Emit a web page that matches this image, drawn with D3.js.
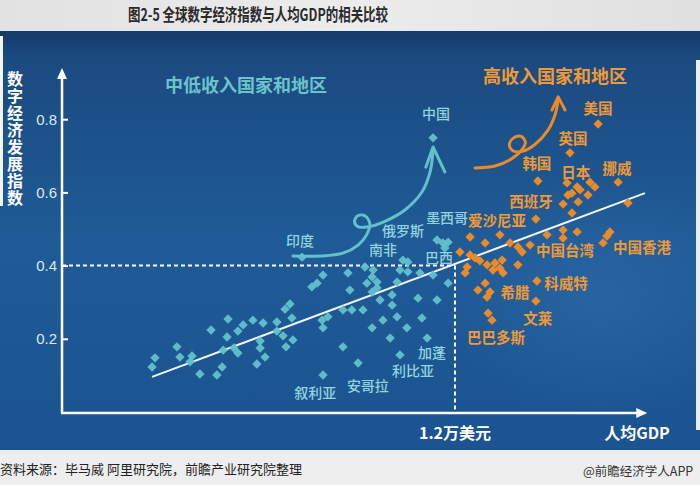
<!DOCTYPE html>
<html><head><meta charset="utf-8">
<script src="https://cdn.jsdelivr.net/npm/d3@7"></script>
<style>body{margin:0;background:#fff;} svg{display:block}</style>
</head><body><svg id="c" width="700" height="485"></svg>
<script>
// ---------- data ----------
const title = "图2-5 全球数字经济指数与人均GDP的相关比较";
const yAxisTitle = "数字经济发展指数";
const xAxisTitle = "人均GDP";
const yTicks = [0.2, 0.4, 0.6, 0.8];
const thresholdX = 12;      // 人均GDP, 千美元
const thresholdY = 0.4;
const thresholdLabel = "1.2万美元";
const groupLow = "中低收入国家和地区";
const groupHigh = "高收入国家和地区";
const source = "资料来源：毕马威 阿里研究院，前瞻产业研究院整理";
const credit = "@前瞻经济学人APP";

// [人均GDP(千美元, 估), 数字经济发展指数]
const lowIncome = [
 [2.75,0.123],[2.84,0.148],[3.51,0.178],[3.60,0.150],[3.97,0.153],[3.91,0.137],[4.21,0.104],
 [4.55,0.224],[5.07,0.254],[5.04,0.205],[4.92,0.169],[4.89,0.123],[4.73,0.101],[5.25,0.175],
 [5.37,0.161],[5.37,0.221],[5.53,0.238],[5.83,0.251],[6.14,0.243],[6.05,0.194],[6.05,0.175],
 [6.20,0.150],[5.95,0.131],[6.56,0.246],[6.56,0.221],[6.75,0.208],[7.05,0.197],[6.84,0.178],
 [6.81,0.281],[6.96,0.295],[7.02,0.257],[7.63,0.342],[7.79,0.352],[7.97,0.374],[7.94,0.251],
 [7.97,0.230],[8.12,0.260],[8.58,0.279],[8.58,0.178],[7.97,0.101],[8.73,0.380],[8.79,0.333],
 [8.85,0.279],[9.19,0.279],[9.25,0.396],[9.50,0.388],[9.47,0.369],[9.62,0.355],[9.31,0.352],
 [9.47,0.328],[9.62,0.339],[9.71,0.306],[10.08,0.320],[10.32,0.388],[10.56,0.383],[10.41,0.415],
 [10.56,0.410],[10.23,0.355],[10.93,0.380],[11.33,0.374],[11.79,0.352],[10.87,0.311],[11.45,0.306],
 [10.08,0.292],[9.80,0.251],[10.23,0.260],[10.99,0.257],[9.47,0.230],[10.53,0.230],[10.02,0.202],
 [11.15,0.202],[10.32,0.156],[9.04,0.134],[11.45,0.470],[11.63,0.462],[11.79,0.464],[11.69,0.448],
 [7.33,0.423],[11.33,0.749]
];
const highIncome = [
 [16.37,0.787],[15.51,0.708],[14.53,0.631],[15.42,0.626],[15.73,0.615],[15.82,0.607],[15.57,0.598],
 [15.45,0.593],[16.12,0.628],[16.27,0.615],[16.06,0.593],[15.76,0.574],[15.30,0.568],[15.57,0.544],
 [16.98,0.628],[17.28,0.571],[14.47,0.527],[14.81,0.484],[15.30,0.497],[15.30,0.475],[15.73,0.492],
 [16.52,0.462],[16.64,0.481],[16.73,0.492],[12.15,0.437],[12.46,0.478],[12.92,0.462],[13.37,0.484],
 [13.68,0.462],[13.92,0.451],[14.05,0.437],[14.29,0.456],[12.46,0.429],[12.61,0.421],[12.76,0.413],
 [12.98,0.402],[13.22,0.407],[13.44,0.415],[13.37,0.393],[13.16,0.388],[13.92,0.402],[12.37,0.396],
 [12.31,0.380],[13.47,0.380],[12.92,0.352],[12.70,0.333],[13.07,0.328],[12.98,0.314],[14.50,0.358],
 [14.47,0.303],[13.01,0.270],[13.13,0.251]
];
const trend = [[2.75,0.096],[17.80,0.598]];

const lowLabels = [
 ["中国",11.42,0.817],["印度",7.27,0.470],["俄罗斯",10.41,0.497],["南非",9.80,0.444],
 ["墨西哥",11.76,0.533],["巴西",11.51,0.423],["加蓬",11.30,0.164],["利比亚",10.72,0.115],
 ["安哥拉",9.34,0.074],["叙利亚",7.73,0.055]
];
const highLabels = [
 ["美国",16.37,0.833],["英国",15.60,0.751],["韩国",14.50,0.683],["日本",15.69,0.656],
 ["挪威",16.95,0.667],["西班牙",14.32,0.579],["爱沙尼亚",13.28,0.525],["中国台湾",15.36,0.443],
 ["中国香港",17.71,0.451],["科威特",15.39,0.355],["希腊",13.83,0.328],["文莱",14.53,0.257],
 ["巴巴多斯",13.25,0.205]
];
const lowPath = [[7.05,0.426],[7.88,0.426],[8.58,0.434],[9.04,0.456],[9.30,0.484],[9.40,0.514],
 [9.25,0.536],[9.03,0.536],[8.93,0.520],[9.05,0.506],[9.34,0.506],[9.86,0.521],[10.47,0.552],
 [10.99,0.601],[11.24,0.656],[11.33,0.716]];
const lowHead = [[11.11,0.669],[11.33,0.724],[11.69,0.656]];
const highPath = [[12.61,0.667],[13.22,0.672],[13.68,0.689],[14.02,0.714],[14.15,0.737],[14.02,0.753],
 [13.79,0.749],[13.66,0.730],[13.78,0.713],[14.05,0.712],[14.44,0.731],[14.84,0.770],[15.05,0.811],[15.15,0.852]];
const highHead = [[14.96,0.825],[15.15,0.861],[15.36,0.825]];

// ---------- drawing ----------
const svg = d3.select("#c");
const W = 700, H = 485;
const x = d3.scaleLinear().domain([0, 18]).range([62, 651.5]);
const y = d3.scaleLinear().domain([0, 1]).range([412, 46]);
const CJK = "'Noto Sans CJK SC','Noto Sans',sans-serif";
const TEAL = "#63c1c9", TEAL_T = "#93d3dd", ORANGE = "#e98a2b", ORANGE_T = "#f09a36";

const defs = svg.append("defs");
const bg = defs.append("linearGradient").attr("id","bg").attr("x1",0).attr("y1",0).attr("x2",0).attr("y2",1);
[[0,"#153a69"],[0.06,"#1b4a80"],[0.5,"#1f5b97"],[1,"#1b5490"]].forEach(s=>bg.append("stop").attr("offset",s[0]).attr("stop-color",s[1]));
const tb = defs.append("linearGradient").attr("id","tb").attr("x1",0).attr("y1",0).attr("x2",1).attr("y2",0);
[[0,"#e2e2e2"],[0.5,"#ececec"],[1,"#e0e0e0"]].forEach(s=>tb.append("stop").attr("offset",s[0]).attr("stop-color",s[1]));
const glow = defs.append("radialGradient").attr("id","glow").attr("cx",0.5).attr("cy",0.5).attr("r",0.5);
glow.append("stop").attr("offset",0).attr("stop-color","#3a78b4").attr("stop-opacity",0.35);
glow.append("stop").attr("offset",1).attr("stop-color","#3a78b4").attr("stop-opacity",0);

svg.append("rect").attr("width",W).attr("height",H).attr("fill","#ededed");
svg.append("rect").attr("width",W).attr("height",31).attr("fill","url(#tb)");
svg.append("rect").attr("y",31).attr("width",W).attr("height",419).attr("fill","url(#bg)");
svg.append("ellipse").attr("cx",600).attr("cy",300).attr("rx",160).attr("ry",120).attr("fill","url(#glow)");
svg.append("rect").attr("y",450).attr("width",W).attr("height",35).attr("fill","#eeeeee");
svg.append("rect").attr("x",0).attr("y",36).attr("width",3).attr("height",170).attr("fill","#f4f4f4");
svg.append("rect").attr("x",696).attr("y",60).attr("width",4).attr("height",370).attr("fill","#e8eef4");

// title
svg.append("text").attr("x",258).attr("y",21).attr("text-anchor","middle")
  .attr("font-family",CJK).attr("font-weight","bold").attr("font-size",17).attr("fill","#2b2b2b")
  .attr("textLength",260).attr("lengthAdjust","spacingAndGlyphs").text(title);

// y axis title (vertical, single text)
svg.append("text").attr("x",15).attr("y",71)
  .style("writing-mode","vertical-rl").style("text-orientation","upright").style("letter-spacing","1px")
  .attr("font-family",CJK).attr("font-weight","bold").attr("font-size",16).attr("fill","#ffffff").text(yAxisTitle);

// y axis ticks
const yAxis = d3.axisLeft(y).tickValues(yTicks).tickFormat(d3.format(".1f")).tickSizeInner(-6).tickSizeOuter(0).tickPadding(5);
const ga = svg.append("g").attr("transform",`translate(${x(0)},0)`).call(yAxis);
ga.select(".domain").remove();
ga.selectAll("line").attr("stroke","#ffffff").attr("stroke-width",2);
ga.selectAll("text").attr("fill","#dbe7f2").attr("font-size",15).attr("font-family","'Liberation Sans',Arial,sans-serif");

// dashed threshold lines
svg.append("line").attr("x1",x(0)).attr("x2",x(thresholdX)).attr("y1",y(thresholdY)).attr("y2",y(thresholdY))
  .attr("stroke","#ffffff").attr("stroke-width",2).attr("stroke-dasharray","4,3");
svg.append("line").attr("x1",x(thresholdX)).attr("x2",x(thresholdX)).attr("y1",y(thresholdY)).attr("y2",y(0))
  .attr("stroke","#ffffff").attr("stroke-width",2).attr("stroke-dasharray","4,3");

// axes with arrows
svg.append("line").attr("x1",x(0)).attr("y1",y(0)+1).attr("x2",x(0)).attr("y2",y(0.92)).attr("stroke","#fff").attr("stroke-width",2.5);
svg.append("path").attr("d",`M${x(0)},${y(0.94)} L${x(0)-5},${y(0.94)+11} L${x(0)+5},${y(0.94)+11} Z`).attr("fill","#fff");
svg.append("line").attr("x1",x(0)-1).attr("y1",y(0)+1).attr("x2",x(17.7)).attr("y2",y(0)+1).attr("stroke","#fff").attr("stroke-width",2.5);
svg.append("path").attr("d",`M${x(17.87)},${y(0)+1} L${x(17.87)-11},${y(0)-4} L${x(17.87)-11},${y(0)+6} Z`).attr("fill","#fff");

// trend line
svg.append("line").attr("x1",x(trend[0][0])).attr("y1",y(trend[0][1])).attr("x2",x(trend[1][0])).attr("y2",y(trend[1][1]))
  .attr("stroke","#f2f6fa").attr("stroke-width",2);

// points
const diamond = d3.symbol(d3.symbolSquare, 44)();
svg.append("g").selectAll("path").data(lowIncome).join("path").attr("d",diamond)
  .attr("transform",d=>`translate(${x(d[0])},${y(d[1])}) rotate(45)`).attr("fill",TEAL).attr("opacity",0.95);
svg.append("g").selectAll("path").data(highIncome).join("path").attr("d",diamond)
  .attr("transform",d=>`translate(${x(d[0])},${y(d[1])}) rotate(45)`).attr("fill",ORANGE);

// arrows
const curve = d3.line().x(d=>x(d[0])).y(d=>y(d[1])).curve(d3.curveCatmullRom.alpha(0.5));
const poly = d3.line().x(d=>x(d[0])).y(d=>y(d[1]));
svg.append("path").attr("d",curve(lowPath)).attr("fill","none").attr("stroke",TEAL).attr("stroke-width",3).attr("stroke-linecap","round");
svg.append("path").attr("d",poly(lowHead)).attr("fill","none").attr("stroke",TEAL).attr("stroke-width",3).attr("stroke-linecap","round").attr("stroke-linejoin","round");
svg.append("path").attr("d",curve(highPath)).attr("fill","none").attr("stroke",ORANGE).attr("stroke-width",3).attr("stroke-linecap","round");
svg.append("path").attr("d",poly(highHead)).attr("fill","none").attr("stroke",ORANGE).attr("stroke-width",3).attr("stroke-linecap","round").attr("stroke-linejoin","round");

// labels
svg.append("g").selectAll("text").data(lowLabels).join("text")
  .attr("x",d=>x(d[1])).attr("y",d=>y(d[2])).attr("text-anchor","middle").attr("dominant-baseline","central")
  .attr("font-family",CJK).attr("font-weight",500).attr("font-size",14).attr("fill",TEAL_T).text(d=>d[0]);
svg.append("g").selectAll("text").data(highLabels).join("text")
  .attr("x",d=>x(d[1])).attr("y",d=>y(d[2])).attr("text-anchor","middle").attr("dominant-baseline","central")
  .attr("font-family",CJK).attr("font-weight","bold").attr("font-size",14.5).attr("fill",ORANGE_T).text(d=>d[0]);

// group titles
svg.append("text").attr("x",246).attr("y",84).attr("text-anchor","middle").attr("dominant-baseline","central")
  .attr("font-family",CJK).attr("font-weight","bold").attr("font-size",18).attr("fill","#6cc3cc").text(groupLow);
svg.append("text").attr("x",555).attr("y",75).attr("text-anchor","middle").attr("dominant-baseline","central")
  .attr("font-family",CJK).attr("font-weight","bold").attr("font-size",18).attr("fill",ORANGE_T).text(groupHigh);

// x axis labels
svg.append("text").attr("x",x(thresholdX)).attr("y",432).attr("text-anchor","middle").attr("dominant-baseline","central")
  .attr("font-family",CJK).attr("font-weight","bold").attr("font-size",16).attr("fill","#ffffff").text(thresholdLabel);
svg.append("text").attr("x",637).attr("y",432).attr("text-anchor","middle").attr("dominant-baseline","central")
  .attr("font-family",CJK).attr("font-weight","bold").attr("font-size",16).attr("fill","#ffffff").text(xAxisTitle);

// footer
svg.append("text").attr("x",0).attr("y",468).attr("dominant-baseline","central")
  .attr("font-family",CJK).attr("font-size",13).attr("fill","#222").text(source);
svg.append("text").attr("x",583).attr("y",470).attr("dominant-baseline","central")
  .attr("font-family",CJK).attr("font-size",12.5).attr("fill","#333").text(credit);
</script></body></html>
